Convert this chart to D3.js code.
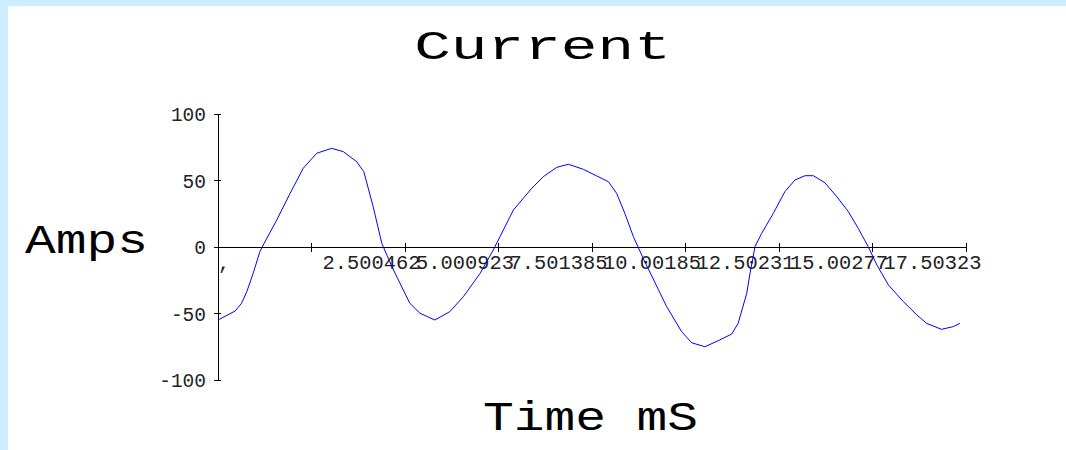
<!DOCTYPE html>
<html>
<head>
<meta charset="utf-8">
<script src="https://cdn.jsdelivr.net/npm/d3@7"></script>
<style>
  html, body { margin: 0; padding: 0; background: #ccecff; }
  svg { display: block; }
</style>
</head>
<body>
<svg id="chart" width="1066" height="450"></svg>
<script>
// Sampled current waveform: time in ms, current in amps
const timeMs = [0, 0.46, 0.63, 0.77, 0.94, 1.12, 1.21, 1.57, 1.93, 2.28, 2.64, 3.04, 3.35, 3.71, 3.90,
  4.15, 4.38, 4.65, 5.13, 5.40, 5.80, 6.20, 6.56, 7.01, 7.36, 7.54, 7.90, 8.39, 8.70, 9.06, 9.37,
  9.77, 10.13, 10.44, 10.66, 10.88, 11.11, 11.37, 12.00, 12.40, 12.67, 13.02, 13.42, 13.74, 13.91,
  14.14, 14.23, 14.36, 14.54, 14.85, 15.16, 15.43, 15.70, 15.92, 16.23, 16.55, 16.86, 17.12, 17.39,
  17.62, 17.93, 18.33, 18.69, 18.95, 19.35, 19.66, 19.84];
const currentA = [-54.9, -48.1, -42.3, -33.6, -19.8, -3.5, 1.5, 20.3, 40.4, 59.2, 70.5, 74.2, 71.7, 64.1, 56.6,
  30.3, 2.8, -14.8, -42.3, -49.8, -54.9, -48.6, -37.4, -19.8, -2.3, 7.7, 27.8, 44.1, 52.9, 59.9, 62.2,
  58.4, 53.4, 49.1, 40.4, 25.3, 7.7, -8.5, -44.9, -63.7, -72.0, -75.0, -69.9, -65.4, -57.4,
  -34.8, -19.5, 0.2, 10.3, 25.3, 41.6, 50.4, 53.6, 53.6, 48.3, 37.8, 26.5, 14.1, 0.2,
  -13.5, -28.6, -41.1, -51.1, -57.4, -61.9, -59.9, -57.4];

// Axis ticks and their printed labels
const xTicks = [0, 2.500462, 5.000923, 7.501385, 10.00185, 12.50231, 15.00277, 17.50323, 20.00369];
const xTickLabels = [",", "2.500462", "5.000923", "7.501385", "10.00185", "12.50231", "15.00277", "17.50323", ""];
const yTicks = [100, 50, 0, -50, -100];

const svg = d3.select("#chart");

// white drawing area inside the light blue frame
svg.append("rect").attr("x", 8).attr("y", 6).attr("width", 1058).attr("height", 444).attr("fill", "#ffffff");

const x = d3.scaleLinear().domain([0, 20.00369]).range([218, 966]);
const y = d3.scaleLinear().domain([-100, 100]).range([380, 114]);

const mono = "'Liberation Mono', 'Courier New', monospace";

// y axis
const yAxis = svg.append("g").attr("transform", `translate(${x(0)},0)`);
yAxis.append("line").attr("x1", 0).attr("x2", 0).attr("y1", y(100)).attr("y2", y(-100))
  .attr("stroke", "#000").attr("stroke-width", 1).attr("shape-rendering", "crispEdges");
yAxis.selectAll("line.tick").data(yTicks).join("line").attr("class", "tick")
  .attr("x1", -4).attr("x2", 3).attr("y1", d => y(d)).attr("y2", d => y(d))
  .attr("stroke", "#000").attr("shape-rendering", "crispEdges");
yAxis.selectAll("text").data(yTicks).join("text")
  .attr("x", -12).attr("y", d => y(d)).attr("dy", "0.36em")
  .attr("text-anchor", "end").attr("font-family", mono).attr("font-size", 19.5)
  .attr("fill", "#222").text(d => d);

// x axis along zero current
const xAxis = svg.append("g").attr("transform", `translate(0,${y(0)})`);
xAxis.append("line").attr("x1", x(0)).attr("x2", x(20.00369)).attr("y1", 0).attr("y2", 0)
  .attr("stroke", "#000").attr("stroke-width", 1).attr("shape-rendering", "crispEdges");
xAxis.selectAll("line.tick").data(xTicks).join("line").attr("class", "tick")
  .attr("x1", d => x(d)).attr("x2", d => x(d)).attr("y1", -4).attr("y2", 5)
  .attr("stroke", "#000").attr("shape-rendering", "crispEdges");
xAxis.selectAll("text").data(xTicks).join("text")
  .attr("x", (d, i) => x(d) + (i === 0 ? 0 : 11)).attr("y", 22)
  .attr("text-anchor", "start").attr("font-family", mono).attr("font-size", 20.4)
  .attr("fill", "#222").text((d, i) => xTickLabels[i]);

// waveform
const pts = timeMs.map((t, i) => [t, currentA[i]]);
svg.append("path").datum(pts)
  .attr("fill", "none").attr("stroke", "#0000ff").attr("stroke-width", 1)
  .attr("d", d3.line().x(d => x(d[0])).y(d => y(d[1])));

// titles, set in a wide monospace face
function wideLabel(text, cx, baseline, sx) {
  svg.append("text")
    .attr("transform", `translate(${cx},${baseline}) scale(${sx},1)`)
    .attr("text-anchor", "middle")
    .attr("font-family", mono).attr("font-size", 41)
    .attr("fill", "#000").text(text);
}
wideLabel("Current", 542.5, 59, 1.49);
wideLabel("Time mS", 590.5, 430, 1.25);
wideLabel("Amps", 86.5, 253, 1.25);
</script>
</body>
</html>
